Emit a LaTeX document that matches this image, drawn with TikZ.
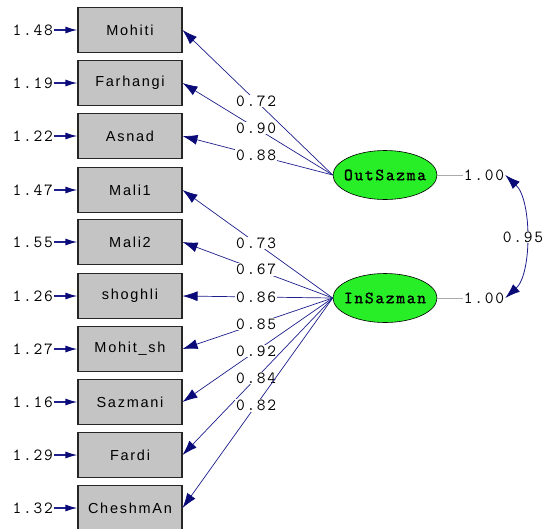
\documentclass[tikz,border=0pt]{standalone}
\usepackage{fontspec}
\setmainfont{Liberation Sans}
\newfontfamily\numfont[LetterSpace=10]{Latin Modern Mono}
\newfontfamily\latfont[LetterSpace=10,FakeBold=1.5]{Latin Modern Mono}
\newfontfamily\boxfont[LetterSpace=12]{Liberation Sans}
\usetikzlibrary{arrows.meta,shapes.geometric}

\definecolor{boxgray}{RGB}{196,196,196}
\definecolor{latgreen}{RGB}{40,238,40}
\definecolor{pathblue}{RGB}{30,30,140}
\definecolor{tipblue}{RGB}{10,10,120}
\definecolor{varline}{RGB}{170,170,170}

\tikzset{
  obs/.style={draw=black!85, line width=1.1pt, fill=boxgray,
    minimum width=104pt, minimum height=45pt, inner sep=0pt,
    font=\boxfont\fontsize{14.5}{16}\selectfont},
  lat/.style={ellipse, draw=black, line width=0.6pt, fill=latgreen,
    minimum width=104pt, minimum height=49pt, inner xsep=-10pt, inner ysep=0pt,
    font=\latfont\fontsize{17}{18}\selectfont},
  loading/.style={draw=pathblue, line width=0.7pt, -{Latex[length=15pt,width=10pt,color=tipblue]}},
  coef/.style={fill=white, inner sep=1pt,
    font=\numfont\fontsize{17}{18}\selectfont},
  errlab/.style={anchor=east, inner sep=1pt,
    font=\numfont\fontsize{17}{18}\selectfont},
  errarrow/.style={draw=pathblue, line width=1.4pt,
    -{Latex[length=12pt,width=7pt,color=tipblue]}},
  varlab/.style={inner sep=1pt, font=\numfont\fontsize{17}{18}\selectfont},
}

\begin{document}
\begin{tikzpicture}[x=1pt,y=-1pt]
\useasboundingbox (0,0) rectangle (545,528);
\clip (0,0) rectangle (545,528);
\fill[white] (0,0) rectangle (545,528);

% observed indicators
\node[obs] (v1)  at (130,30)  {Mohiti};
\node[obs] (v2)  at (130,83)  {Farhangi};
\node[obs] (v3)  at (130,136) {Asnad};
\node[obs] (v4)  at (130,190) {Mali1};
\node[obs] (v5)  at (130,242) {Mali2};
\node[obs] (v6)  at (130,296) {shoghli};
\node[obs] (v7)  at (130,349) {Mohit\_sh};
\node[obs] (v8)  at (130,402) {Sazmani};
\node[obs] (v9)  at (130,455) {Fardi};
\node[obs] (v10) at (130,508) {CheshmAn};

% error variances
\foreach \i/\y/\v in {1/30/1.48, 2/83/1.19, 3/136/1.22, 4/190/1.47, 5/242/1.55,
                      6/296/1.26, 7/349/1.27, 8/402/1.16, 9/455/1.29, 10/508/1.32} {
  \node[errlab] (e\i) at (54,\y) {\v};
  \draw[errarrow] (e\i.east) -- (v\i.west);
}

% latent variables
\node[lat] (outz) at (385,175) {OutSazma};
\node[lat] (inz)  at (385,298) {InSazman};

% loadings
\draw[loading] (outz.west) -- node[coef,pos=0.51] {0.72} (v1.east);
\draw[loading] (outz.west) -- node[coef,pos=0.51] {0.90} (v2.east);
\draw[loading] (outz.west) -- node[coef,pos=0.51] {0.88} (v3.east);
\draw[loading] (inz.west) -- node[coef,pos=0.51] {0.73} (v4.east);
\draw[loading] (inz.west) -- node[coef,pos=0.51] {0.67} (v5.east);
\draw[loading] (inz.west) -- node[coef,pos=0.51] {0.86} (v6.east);
\draw[loading] (inz.west) -- node[coef,pos=0.51] {0.85} (v7.east);
\draw[loading] (inz.west) -- node[coef,pos=0.51] {0.92} (v8.east);
\draw[loading] (inz.west) -- node[coef,pos=0.51] {0.84} (v9.east);
\draw[loading] (inz.west) -- node[coef,pos=0.51] {0.82} (v10.east);

% latent variances
\node[varlab] (o1) at (484,175) {1.00};
\node[varlab] (i1) at (484,298) {1.00};
\draw[varline, line width=0.8pt] (outz.east) -- (o1.west);
\draw[varline, line width=0.8pt] (inz.east) -- (i1.west);

% covariance between the latent variables
\draw[draw=pathblue, line width=0.8pt,
      {Latex[length=15pt,width=10pt,color=tipblue]}-{Latex[length=15pt,width=10pt,color=tipblue]}]
  (o1.east) .. controls (532,200) and (532,274) .. (i1.east);
\node[coef] (cv) at (523,237) {0.95};
\end{tikzpicture}
\end{document}
